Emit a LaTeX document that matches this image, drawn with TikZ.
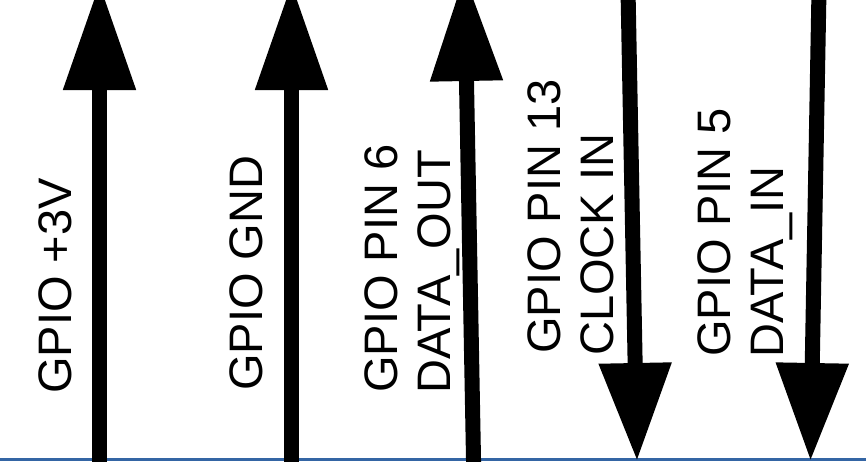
\documentclass[tikz,border=0pt]{standalone}
\usepackage{fontspec}
\setmainfont{Liberation Sans}
\usetikzlibrary{arrows.meta}
\definecolor{lineblue}{HTML}{3465A4}
\tikzset{
  sig/.style={line width=15pt, draw=black},
  uparrow/.style={sig, -{Triangle[length=107pt, width=69pt]}},
  downarrow/.style={sig, -{Triangle[length=98pt, width=69pt]}},
  lbl/.style={rotate=90, anchor=base west, inner sep=0pt, font=\fontsize{47}{53}\selectfont}
}
\begin{document}
\begin{tikzpicture}[x=1pt, y=-1pt]
\useasboundingbox (0,0) rectangle (866,461);
\clip (0,0) rectangle (866,461);
\fill[white] (0,0) rectangle (866,461);
% baseline
\coordinate (bl) at (0,459.5);
\coordinate (br) at (866,459.5);
\draw[lineblue, line width=3.5pt] (bl) -- (br);
% endpoints
\coordinate (a1s) at (99.5,470);   \coordinate (a1e) at (99.5,-17);
\coordinate (a2s) at (291.5,470);  \coordinate (a2e) at (291.5,-17);
\coordinate (a3s) at (473.7,470);  \coordinate (a3e) at (464.5,-26);
\coordinate (a4s) at (628,-10);    \coordinate (a4e) at (637,461);
\coordinate (a5s) at (819,-10);    \coordinate (a5e) at (810.5,461);
\draw[uparrow] (a1s) -- (a1e);
\draw[uparrow] (a2s) -- (a2e);
\draw[uparrow] (a3s) -- (a3e);
\draw[downarrow] (a4s) -- (a4e);
\draw[downarrow] (a5s) -- (a5e);
% labels
\node[lbl] (t1) at (71,394) {GPIO +3V};
\node[lbl] (t2) at (262,391) {GPIO GND};
\node[lbl] (t3a) at (397,393) {GPIO PIN 6};
\node[lbl] (t3b) at (450,394) {DATA\_OUT};
\node[lbl] (t4a) at (560,354) {GPIO PIN 13};
\node[lbl] (t4b) at (613,356) {CLOCK IN};
\node[lbl] (t5a) at (730,357) {GPIO PIN 5};
\node[lbl] (t5b) at (783,358) {DATA\_IN};
\end{tikzpicture}
\end{document}
